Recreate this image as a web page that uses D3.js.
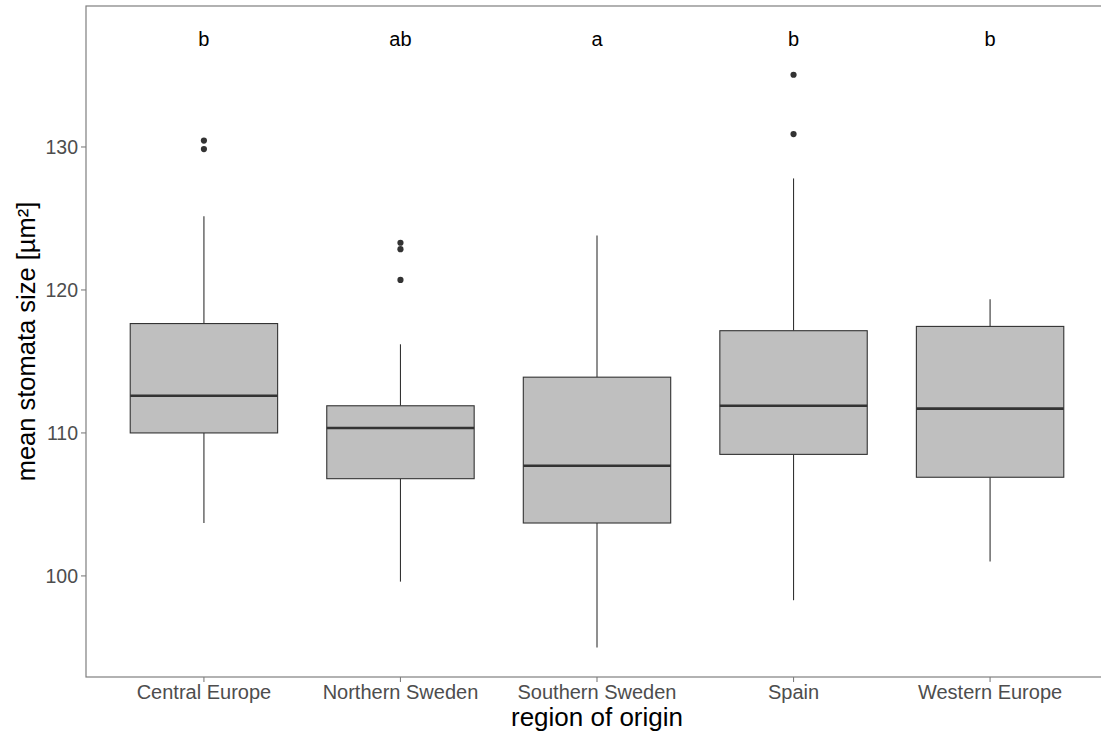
<!DOCTYPE html>
<html><head><meta charset="utf-8">
<script src="https://cdn.jsdelivr.net/npm/d3@7"></script>
<style>body{margin:0;background:#fff}svg{display:block}text{font-family:"Liberation Sans",Arial,sans-serif}</style>
</head><body>
<svg id="c" width="1101" height="733"></svg>
<script>
const categories = ["Central Europe","Northern Sweden","Southern Sweden","Spain","Western Europe"];
const whiskerLow  = [103.7, 99.6, 95.0, 98.3, 101.0];
const q1          = [110.0, 106.8, 103.7, 108.5, 106.9];
const median      = [112.6, 110.35, 107.7, 111.9, 111.7];
const q3          = [117.65, 111.9, 113.9, 117.15, 117.45];
const whiskerHigh = [125.15, 116.2, 123.8, 127.8, 119.35];
const outliers    = [[130.45, 129.85], [123.3, 122.85, 120.7], [], [135.05, 130.9], []];
const letters     = ["b","ab","a","b","b"];
const yTicks      = [100, 110, 120, 130];
const letterY     = 137.6;

const svg = d3.select("#c");
const L = 86, T = 6, B = 677, R = 1108;
const y = d3.scaleLinear().domain([92.93, 139.86]).range([B, T]);
const step = (R - L) / 5.2;
const x = d3.scalePoint().domain(categories).range([L + 0.6*step, R - 0.6*step]);
const bw = 0.75*step;

const g = svg.append("g");
categories.forEach((c, i) => {
  const xc = x(c);
  g.append("line").attr("x1", xc).attr("x2", xc).attr("y1", y(whiskerHigh[i])).attr("y2", y(q3[i])).attr("stroke", "#333").attr("stroke-width", 1.1);
  g.append("line").attr("x1", xc).attr("x2", xc).attr("y1", y(q1[i])).attr("y2", y(whiskerLow[i])).attr("stroke", "#333").attr("stroke-width", 1.1);
  g.append("rect").attr("x", xc - bw/2).attr("width", bw).attr("y", y(q3[i])).attr("height", y(q1[i]) - y(q3[i]))
    .attr("fill", "#bfbfbf").attr("stroke", "#333").attr("stroke-width", 1.1);
  g.append("line").attr("x1", xc - bw/2).attr("x2", xc + bw/2).attr("y1", y(median[i])).attr("y2", y(median[i])).attr("stroke", "#333").attr("stroke-width", 2.6);
  outliers[i].forEach(v => g.append("circle").attr("cx", xc).attr("cy", y(v)).attr("r", 3.1).attr("fill", "#333"));
  g.append("text").attr("x", xc).attr("y", y(letterY)).attr("dy", "0.36em").attr("text-anchor", "middle")
    .attr("font-size", 20).attr("fill", "#000").text(letters[i]);
});

// panel border
svg.append("rect").attr("x", L).attr("y", T).attr("width", R - L).attr("height", B - T)
  .attr("fill", "none").attr("stroke", "#7f7f7f").attr("stroke-width", 1.2);

// y axis
const ya = svg.append("g");
yTicks.forEach(t => {
  ya.append("line").attr("x1", L - 5).attr("x2", L).attr("y1", y(t)).attr("y2", y(t)).attr("stroke", "#7f7f7f").attr("stroke-width", 1.1);
  ya.append("text").attr("x", L - 8).attr("y", y(t)).attr("dy", "0.36em").attr("text-anchor", "end")
    .attr("font-size", 19.5).attr("fill", "#4d4d4d").text(t);
});
// x axis
categories.forEach(c => {
  ya.append("line").attr("x1", x(c)).attr("x2", x(c)).attr("y1", B).attr("y2", B + 5).attr("stroke", "#7f7f7f").attr("stroke-width", 1.1);
  ya.append("text").attr("x", x(c)).attr("y", B + 22).attr("text-anchor", "middle")
    .attr("font-size", 20).attr("fill", "#4d4d4d").text(c);
});

svg.append("text").attr("x", 597).attr("y", 726).attr("text-anchor", "middle").attr("font-size", 26).attr("fill", "#000").text("region of origin");
svg.append("text").attr("transform", `translate(35,${(T+B)/2}) rotate(-90)`).attr("text-anchor", "middle")
  .attr("font-size", 25.5).attr("fill", "#000").text("mean stomata size [µm²]");
</script>
</body></html>
